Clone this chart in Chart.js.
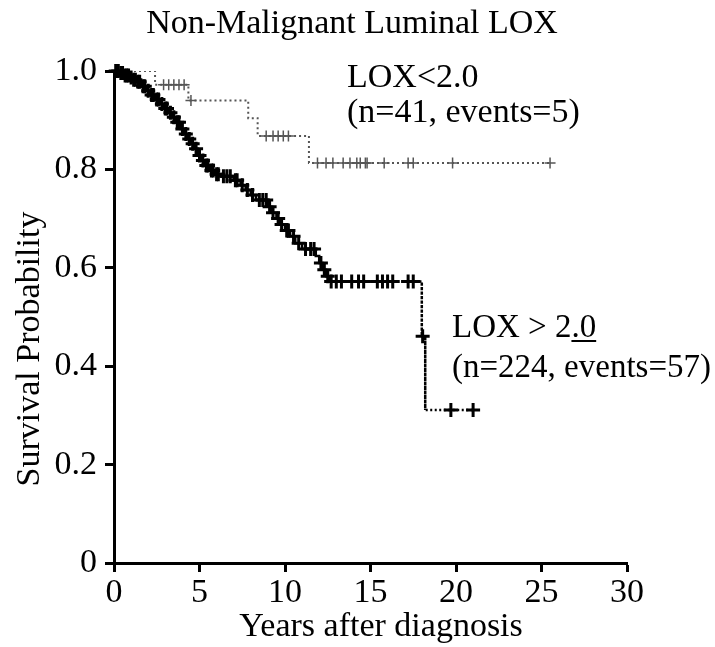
<!DOCTYPE html>
<html>
<head>
<meta charset="utf-8">
<script src="https://cdn.jsdelivr.net/npm/chart.js@4.4.1/dist/chart.umd.min.js"></script>
<style>
  html, body { margin: 0; padding: 0; background: #fff; }
  canvas { display: block; }
</style>
</head>
<body>
<canvas id="km" width="715" height="647"></canvas>
<script>
// tick labels
const xTickLabels = ['0', '5', '10', '15', '20', '25', '30'];
const yTickLabels = ['0', '0.2', '0.4', '0.6', '0.8', '1.0'];

// LOX > 2.0 (n=224, events=57): event times and survival after each drop
const highTimes = [0.3, 0.6, 0.9, 1.1, 1.3, 1.6, 1.9, 2.1, 2.4, 2.7, 2.9, 3.2, 3.4, 3.6, 3.9, 4.1, 4.3, 4.5, 4.7, 4.9,
    5.1, 5.3, 5.6, 5.9, 6.3, 7.0, 7.4, 7.7, 8.0, 8.3, 9.0, 9.2, 9.5, 9.7, 10.0, 10.3, 10.6, 11.0, 11.8, 12.0,
    12.2, 12.4, 12.6, 18.0, 18.2];
const highSurv = [0.996, 0.991, 0.987, 0.982, 0.978, 0.969, 0.960, 0.951, 0.942, 0.933, 0.924, 0.915, 0.906, 0.896, 0.882, 0.872, 0.862, 0.852, 0.842, 0.828,
    0.818, 0.808, 0.798, 0.790, 0.786, 0.778, 0.768, 0.758, 0.748, 0.738, 0.724, 0.712, 0.700, 0.688, 0.676, 0.664, 0.650, 0.638, 0.624, 0.610,
    0.596, 0.583, 0.572, 0.461, 0.311];
const highCensor = [0.1, 0.25, 0.4, 0.5, 0.65, 0.75, 0.85, 1.0, 1.15, 1.25, 1.4, 1.5, 1.7, 1.8, 2.0, 2.2, 2.3, 2.5, 2.6, 2.8,
    3.0, 3.1, 3.3, 3.5, 3.7, 3.8, 4.0, 4.2, 4.4, 4.6, 4.8, 5.0, 5.2, 5.4, 5.5, 5.7, 5.8, 6.0, 6.1, 6.4,
    6.6, 6.8, 7.1, 7.2, 7.5, 7.8, 8.1, 8.5, 8.7, 8.9, 9.1, 9.3, 9.6, 9.8, 10.1, 10.2, 10.5, 10.8, 11.2, 11.5,
    11.7, 12.1, 12.3, 12.5, 12.7, 13.0, 13.3, 13.9, 14.3, 14.6, 15.4, 15.7, 16.0, 16.3, 17.2, 17.5, 18.05, 19.7, 21.0];

// LOX<2.0 (n=41, events=5)
const lowTimes = [2.4, 4.35, 7.85, 8.4, 11.4];
const lowSurv = [0.972, 0.940, 0.904, 0.868, 0.813];
const lowCensor = [2.9, 3.2, 3.5, 3.8, 4.1, 4.5, 8.9, 9.3, 9.6, 9.9, 10.2,
    11.9, 12.4, 12.8, 13.4, 13.8, 14.2, 14.4, 14.7, 14.8, 15.8, 17.2, 17.5, 19.8, 25.5];

const serif = "'Liberation Serif', 'Times New Roman', serif";

// build the step path (corners come from the event arrays)
function stepPath(times, surv, censor) {
    const pts = [{ x: 0, y: 1 }];
    let prev = 1;
    for (let i = 0; i < times.length; i++) {
        pts.push({ x: times[i], y: prev });
        pts.push({ x: times[i], y: surv[i] });
        prev = surv[i];
    }
    pts.push({ x: Math.max(...censor), y: prev });
    return pts;
}

function levelAt(times, surv, t) {
    let s = 1;
    for (let i = 0; i < times.length; i++) {
        if (times[i] <= t) s = surv[i];
    }
    return s;
}

function censorPoints(times, surv, censor) {
    return censor.map(t => ({ x: t, y: levelAt(times, surv, t) }));
}

// text drawn straight on the canvas
const labelsPlugin = {
    id: 'labels',
    afterDraw(chart) {
        const c = chart.ctx;
        c.save();
        c.fillStyle = '#000';
        c.font = '34px ' + serif;
        c.textBaseline = 'alphabetic';

        c.textAlign = 'center';
        c.fillText('Non-Malignant Luminal LOX', 352, 33);
        c.fillText('Years after diagnosis', 381, 636);

        c.textAlign = 'left';
        c.fillText('LOX<2.0', 347, 87);
        c.fillText('(n=41, events=5)', 347, 122);

        c.font = '33px ' + serif;
        c.fillText('LOX > 2.0', 452, 337);
        const w1 = c.measureText('LOX > 2').width;
        const w2 = c.measureText('.0').width;
        c.fillRect(452 + w1, 340, w2, 2);
        c.fillText('(n=224, events=57)', 452, 377);

        c.font = '34px ' + serif;
        c.translate(39, 349);
        c.rotate(-Math.PI / 2);
        c.textAlign = 'center';
        c.fillText('Survival Probability', 0, 0);
        c.restore();
    }
};

const tickFont = { family: serif, size: 34 };

new Chart(document.getElementById('km'), {
    type: 'scatter',
    data: {
        datasets: [
            {
                label: 'LOX > 2.0 censored',
                data: censorPoints(highTimes, highSurv, highCensor),
                pointStyle: 'cross',
                pointRadius: 7,
                borderColor: '#000',
                borderWidth: 3,
                clip: false
            },
            {
                label: 'LOX > 2.0',
                data: stepPath(highTimes, highSurv, highCensor),
                showLine: true,
                pointRadius: 0,
                borderColor: '#000',
                borderWidth: 2.5,
                segment: {
                    borderDash: ctx => ctx.p1.parsed.x >= 17.9 ? [2, 2.5] : undefined
                }
            },
            {
                label: 'LOX<2.0 censored',
                data: censorPoints(lowTimes, lowSurv, lowCensor),
                pointStyle: 'cross',
                pointRadius: 5.5,
                borderColor: '#555',
                borderWidth: 1.5,
                clip: false
            },
            {
                label: 'LOX<2.0',
                data: stepPath(lowTimes, lowSurv, lowCensor),
                showLine: true,
                pointRadius: 0,
                borderColor: '#555',
                borderWidth: 2,
                borderDash: [2, 3]
            }
        ]
    },
    options: {
        responsive: false,
        animation: false,
        layout: { padding: { top: 71, right: 88, left: 0, bottom: 0 } },
        plugins: {
            legend: { display: false },
            tooltip: { enabled: false },
            title: { display: false }
        },
        scales: {
            x: {
                type: 'linear',
                min: 0,
                max: 30,
                afterFit: s => { s.height = 84; },
                ticks: {
                    stepSize: 5,
                    color: '#000',
                    font: tickFont,
                    padding: 1,
                    maxRotation: 0,
                    callback: (v, i) => xTickLabels[i]
                },
                grid: { drawOnChartArea: false, tickLength: 9, tickWidth: 3, tickColor: '#000' },
                border: { color: '#000', width: 3 }
            },
            y: {
                min: 0,
                max: 1,
                afterFit: s => { s.width = 114; },
                ticks: {
                    stepSize: 0.2,
                    color: '#000',
                    font: tickFont,
                    padding: 8,
                    callback: (v, i) => yTickLabels[i]
                },
                grid: { drawOnChartArea: false, tickLength: 9, tickWidth: 3, tickColor: '#000' },
                border: { color: '#000', width: 3 }
            }
        }
    },
    plugins: [labelsPlugin]
});
</script>
</body>
</html>
